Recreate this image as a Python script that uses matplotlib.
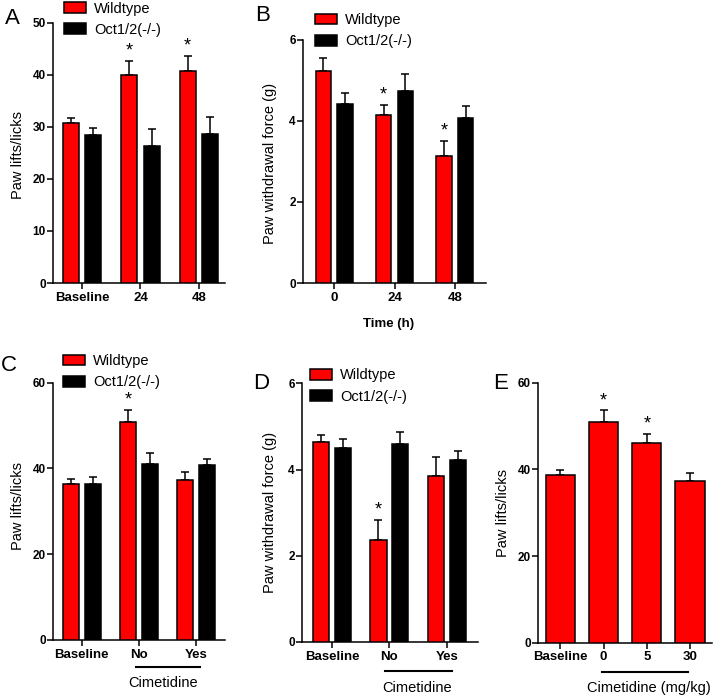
import matplotlib
matplotlib.use("Agg")
import matplotlib.pyplot as plt
import numpy as np

plt.rcParams['font.family'] = ['Liberation Sans', 'DejaVu Sans']

# ---- data ----
a_groups = ['Baseline', '24', '48']
a_wt = [30.8, 39.9, 40.8]
a_wt_err = [0.9, 2.8, 2.8]
a_ko = [28.4, 26.3, 28.6]
a_ko_err = [1.3, 3.2, 3.3]
a_star = [False, True, True]

b_groups = ['0', '24', '48']
b_wt = [5.23, 4.15, 3.13]
b_wt_err = [0.31, 0.24, 0.36]
b_ko = [4.42, 4.72, 4.07]
b_ko_err = [0.27, 0.44, 0.30]
b_star = [False, True, True]

c_groups = ['Baseline', 'No', 'Yes']
c_wt = [36.4, 50.9, 37.4]
c_wt_err = [1.1, 2.7, 1.8]
c_ko = [36.4, 41.0, 40.9]
c_ko_err = [1.7, 2.6, 1.3]
c_star = [False, True, False]

d_groups = ['Baseline', 'No', 'Yes']
d_wt = [4.63, 2.36, 3.84]
d_wt_err = [0.16, 0.48, 0.46]
d_ko = [4.50, 4.60, 4.23]
d_ko_err = [0.21, 0.26, 0.21]
d_star = [False, True, False]

e_groups = ['Baseline', '0', '5', '30']
e_vals = [38.6, 50.9, 46.0, 37.3]
e_err = [1.3, 2.7, 2.2, 1.8]
e_star = [False, True, True, False]

W, H = 714, 697
fig = plt.figure(figsize=(W / 100, H / 100), dpi=100)

RED = '#ff0000'
lw = 1.1


def px_axes(left, right, top, bottom):
    return fig.add_axes([left / W, 1 - bottom / H, (right - left) / W, (bottom - top) / H])


def style(ax, groups, yticks, xlim):
    ax.spines['top'].set_visible(False)
    ax.spines['right'].set_visible(False)
    ax.spines['left'].set_linewidth(lw)
    ax.spines['bottom'].set_linewidth(lw)
    ax.set_xlim(xlim)
    ax.set_ylim(yticks[0], yticks[-1])
    ax.set_yticks(yticks)
    ax.set_xticks(range(len(groups)))
    ax.set_xticklabels(groups)
    ax.tick_params(axis='y', direction='out', length=4.3, width=lw, pad=1, labelsize=8.5)
    ax.tick_params(axis='x', direction='out', length=4.3, width=lw, pad=2, labelsize=9.5)
    for t in ax.get_xticklabels() + ax.get_yticklabels():
        t.set_fontweight('bold')


def bars(ax, x, vals, errs, color, width):
    ax.bar(x, vals, width, color=color, edgecolor='black', linewidth=lw, zorder=3)
    ax.errorbar(x, vals, yerr=[np.zeros(len(vals)), errs], fmt='none', ecolor='black',
                elinewidth=lw, capsize=3, capthick=lw, zorder=2)


def stars(ax, x, vals, errs, flags):
    for xi, v, e, f in zip(x, vals, errs, flags):
        if f:
            ax.annotate('*', (xi, v + e), xytext=(0, 1), textcoords='offset points',
                        ha='center', va='bottom', fontsize=13)


def pair_panel(ax, groups, wt, wt_err, ko, ko_err, flags, off, width):
    x = np.arange(len(groups))
    bars(ax, x - off, wt, wt_err, RED, width)
    bars(ax, x + off, ko, ko_err, 'black', width)
    stars(ax, x - off, wt, wt_err, flags)
    ax.legend(handles=ax.containers[0:1] + ax.containers[2:3], labels=['Wildtype', 'Oct1/2(-/-)'],
              frameon=False, fontsize=10.5, handlelength=1.5, handleheight=0.75,
              handletextpad=0.55, borderpad=0, borderaxespad=0, loc='upper left')


def cim_line(ax, x0, x1, y, tx, ty, label):
    tr = ax.get_xaxis_transform()
    ax.plot([x0, x1], [y, y], color='black', lw=1.5, transform=tr, clip_on=False)
    ax.text(tx, ty, label, transform=tr, ha='center', va='center', fontsize=10.5)


# ---- A ----
axA = px_axes(53, 225, 22.7, 283)
pair_panel(axA, a_groups, a_wt, a_wt_err, a_ko, a_ko_err, a_star, 0.19, 0.275)
style(axA, a_groups, [0, 10, 20, 30, 40, 50], (-0.5, 2.45))
axA.set_ylabel('Paw lifts/licks', fontsize=10.5)
axA.yaxis.set_label_coords(-0.163, 0.49)
axA.get_legend().set_bbox_to_anchor((0.064, 1.081))

# ---- B ----
axB = px_axes(303, 486, 39.5, 283)
pair_panel(axB, b_groups, b_wt, b_wt_err, b_ko, b_ko_err, b_star, 0.18, 0.26)
style(axB, b_groups, [0, 2, 4, 6], (-0.52, 2.52))
axB.set_ylabel('Paw withdrawal force (g)', fontsize=10.5)
axB.yaxis.set_label_coords(-0.142, 0.49)
axB.set_xlabel('Time (h)', fontsize=9.5, fontweight='bold')
axB.xaxis.set_label_coords(0.47, -0.144)
axB.get_legend().set_bbox_to_anchor((0.066, 1.108))

# ---- C ----
axC = px_axes(53.3, 225, 382.7, 640)
pair_panel(axC, c_groups, c_wt, c_wt_err, c_ko, c_ko_err, c_star, 0.19, 0.28)
style(axC, c_groups, [0, 20, 40, 60], (-0.5, 2.51))
axC.set_ylabel('Paw lifts/licks', fontsize=10.5)
axC.yaxis.set_label_coords(-0.163, 0.52)
axC.get_legend().set_bbox_to_anchor((0.057, 1.111))
cim_line(axC, 0.95, 2.07, -0.105, 1.42, -0.167, 'Cimetidine')

# ---- D ----
axD = px_axes(302, 478, 383.3, 642)
pair_panel(axD, d_groups, d_wt, d_wt_err, d_ko, d_ko_err, d_star, 0.19, 0.28)
style(axD, d_groups, [0, 2, 4, 6], (-0.52, 2.54))
axD.set_ylabel('Paw withdrawal force (g)', fontsize=10.5)
axD.yaxis.set_label_coords(-0.142, 0.5)
axD.get_legend().set_bbox_to_anchor((0.045, 1.058))
cim_line(axD, 0.93, 2.09, -0.112, 1.48, -0.178, 'Cimetidine')

# ---- E ----
axE = px_axes(538.3, 712, 382.7, 642.7)
xe = np.arange(len(e_groups))
bars(axE, xe, e_vals, e_err, RED, 0.68)
stars(axE, xe, e_vals, e_err, e_star)
style(axE, e_groups, [0, 20, 40, 60], (-0.51, 3.51))
axE.set_ylabel('Paw lifts/licks', fontsize=10.5)
axE.yaxis.set_label_coords(-0.163, 0.5)
cim_line(axE, 0.96, 2.96, -0.112, 2.05, -0.174, 'Cimetidine (mg/kg)')

# panel letters
for letter, x, y in [('A', 5, 8), ('B', 255, 5), ('C', 1, 355), ('D', 253, 373), ('E', 493, 373)]:
    fig.text(x / W, 1 - y / H, letter, ha='left', va='top', fontsize=16)

fig.savefig('out.png', dpi=100)
